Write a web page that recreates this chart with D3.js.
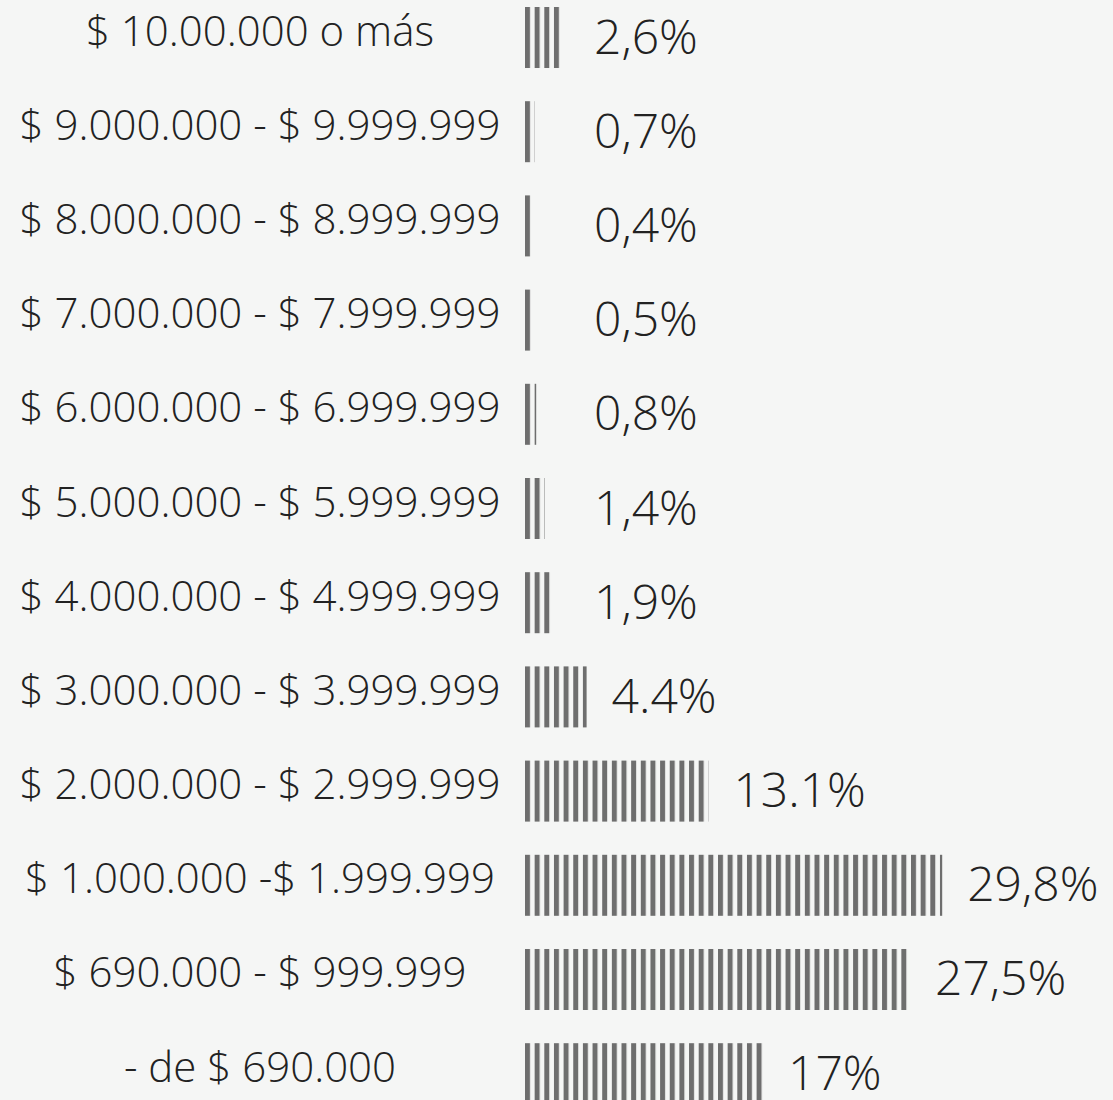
<!DOCTYPE html>
<meta charset="utf-8">
<html>

<head>
  <title>Ingresos por tramo</title>
  <script src="https://d3js.org/d3.v7.min.js"></script>
  <style>
    body { margin: 0; background: #f5f6f5; }
    svg { display: block; }
  </style>
</head>

<body>
  <div id="my_dataviz"></div>
</body>
<script type="text/javascript">

  // tramos, de arriba hacia abajo
  var categories = [
    "$ 10.00.000 o más",
    "$ 9.000.000 - $ 9.999.999",
    "$ 8.000.000 - $ 8.999.999",
    "$ 7.000.000 - $ 7.999.999",
    "$ 6.000.000 - $ 6.999.999",
    "$ 5.000.000 - $ 5.999.999",
    "$ 4.000.000 - $ 4.999.999",
    "$ 3.000.000 - $ 3.999.999",
    "$ 2.000.000 - $ 2.999.999",
    "$ 1.000.000 -$ 1.999.999",
    "$ 690.000 - $ 999.999",
    "- de $ 690.000"
  ];
  var values = [2.6, 0.7, 0.4, 0.5, 0.8, 1.4, 1.9, 4.4, 13.1, 29.8, 27.5, 17];
  var valueLabels = ["2,6%", "0,7%", "0,4%", "0,5%", "0,8%", "1,4%", "1,9%", "4.4%", "13.1%", "29,8%", "27,5%", "17%"];

  var width = 1113, height = 1100;
  var barLeft = 525;

  var data = categories.map(function (c, i) {
    return { cat: c, value: values[i], label: valueLabels[i] };
  });

  var svg = d3.select("#my_dataviz")
    .append("svg")
    .attr("width", width)
    .attr("height", height);

  svg.append("rect")
    .attr("width", width)
    .attr("height", height)
    .attr("fill", "#f5f6f5");

  // rayas verticales
  var pattern = svg.append("defs").append("pattern")
    .attr("id", "stripes")
    .attr("patternUnits", "userSpaceOnUse")
    .attr("x", barLeft)
    .attr("y", 0)
    .attr("width", 9.65)
    .attr("height", 10);
  pattern.append("rect")
    .attr("width", 5)
    .attr("height", 10)
    .attr("fill", "#6e6e6e");

  var x = d3.scaleLinear()
    .domain([0, 30])
    .range([barLeft, barLeft + 420]);

  var y = d3.scaleBand()
    .domain(categories)
    .range([7, 1104.2])
    .paddingInner(0.3524)
    .paddingOuter(0)
    .align(0);

  svg.selectAll("rect.bar")
    .data(data)
    .enter()
    .append("rect")
    .attr("class", "bar")
    .attr("x", x(0))
    .attr("y", function (d) { return y(d.cat); })
    .attr("width", function (d) { return x(d.value) - x(0); })
    .attr("height", y.bandwidth())
    .attr("fill", "url(#stripes)");

  svg.selectAll("text.cat")
    .data(data)
    .enter()
    .append("text")
    .attr("class", "cat")
    .attr("x", 260)
    .attr("y", function (d) { return y(d.cat) + y.bandwidth() / 2 + 8; })
    .attr("text-anchor", "middle")
    .style("font-family", "'Open Sans', sans-serif")
    .style("font-weight", 300)
    .style("font-size", "42px")
    .style("fill", "#222")
    .text(function (d) { return d.cat; });

  svg.selectAll("text.val")
    .data(data)
    .enter()
    .append("text")
    .attr("class", "val")
    .attr("x", function (d) { return Math.max(x(d.value) + 25, 594); })
    .attr("y", function (d) { return y(d.cat) + y.bandwidth() / 2 + 16; })
    .style("font-family", "'Open Sans', sans-serif")
    .style("font-weight", 300)
    .style("font-size", "48px")
    .style("fill", "#222")
    .text(function (d) { return d.label; });

</script>

</html>
